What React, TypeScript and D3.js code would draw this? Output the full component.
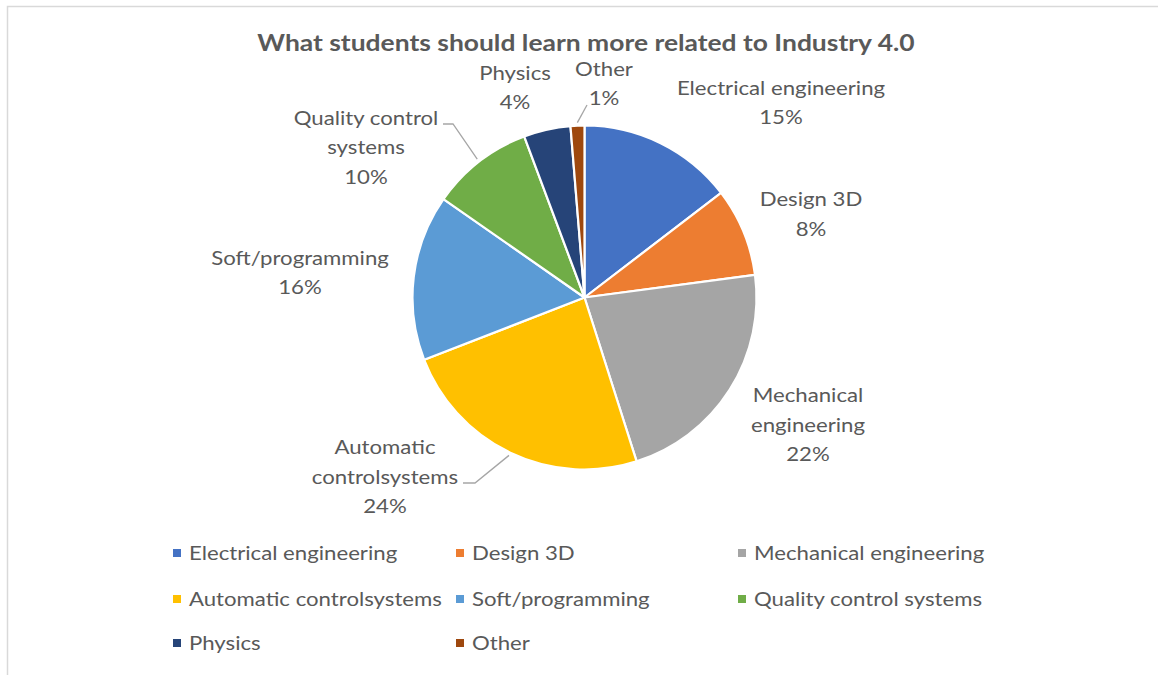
import React from "react";
import * as d3 from "d3";

const categories = [
  "Electrical engineering",
  "Design 3D",
  "Mechanical engineering",
  "Automatic controlsystems",
  "Soft/programming",
  "Quality control systems",
  "Physics",
  "Other",
];
const shares = [14.6, 8.3, 22.2, 24.0, 15.6, 9.6, 4.4, 1.3];
const colors = ["#4472C4", "#ED7D31", "#A5A5A5", "#FFC000", "#5B9BD5", "#70AD47", "#264478", "#9E480E"];
const labelLines = [
  ["Electrical engineering"],
  ["Design 3D"],
  ["Mechanical", "engineering"],
  ["Automatic", "controlsystems"],
  ["Soft/programming"],
  ["Quality control", "systems"],
  ["Physics"],
  ["Other"],
];
const title = "What students should learn more related to Industry 4.0";

// layout
const W = 1158, H = 675;
const cx = 584.5, cy = 297.5, R = 172;
const labelCenters: [number, number][] = [
  [781, 102.5], [811, 214], [808, 424.5], [385, 476.5],
  [300, 272.5], [366, 147], [515, 87.5], [604, 83.5],
];
const leaderStarts: ([number, number][] | null)[] = [
  null, null, null, [[463, 483], [475, 483]], null, [[443, 124], [453, 124]], null, [[587, 105]],
];
const FONT = "Lato, 'Liberation Sans', sans-serif";
const TEXT = "#595959";
const LH = 29.5;
const FS = 20;
const SX = 1.11;
const TFS = 22.5;
const TSX = 1.175;

export default function App() {
  const total = d3.sum(shares);
  const pie = d3.pie<number>().sort(null).value((d) => d).startAngle(0).endAngle(2 * Math.PI);
  const arcs = pie(shares);
  const arc = d3.arc<d3.PieArcDatum<number>>().innerRadius(0).outerRadius(R);

  const legendCols = [173, 456, 738];
  const legendRows = [553, 599, 643];

  return (
    <svg width={W} height={H} style={{ position: "absolute", left: 0, top: 0, background: "#fff" }}>
      <rect x={7.5} y={6.5} width={W + 10} height={H + 10} fill="#fff" stroke="#D9D9D9" strokeWidth={1.5} />
      <text
        transform={`translate(586,51) scale(${TSX},1)`}
        textAnchor="middle"
        fontFamily={FONT}
        fontWeight="bold"
        fontSize={TFS}
        fill={TEXT}
      >
        {title}
      </text>
      <g transform={`translate(${cx},${cy})`}>
        {arcs.map((a, i) => (
          <path key={i} d={arc(a) || ""} fill={colors[i]} stroke="#fff" strokeWidth={2.2} strokeLinejoin="round" />
        ))}
      </g>
      {arcs.map((a, i) => {
        const st = leaderStarts[i];
        if (!st) return null;
        const mid = (a.startAngle + a.endAngle) / 2;
        const ex = cx + Math.sin(mid) * (R + 3);
        const ey = cy - Math.cos(mid) * (R + 3);
        const pts = [...st, [ex, ey]];
        return (
          <polyline key={i} points={pts.map((p) => p.join(",")).join(" ")} fill="none" stroke="#A6A6A6" strokeWidth={1.3} />
        );
      })}
      {arcs.map((a, i) => {
        const lines = [...labelLines[i], `${Math.round((a.value / total) * 100)}%`];
        const [lx, ly] = labelCenters[i];
        const top = ly - ((lines.length - 1) * LH) / 2;
        return (
          <g key={i}>
            {lines.map((t, j) => (
              <text
                key={j}
                transform={`translate(${lx},${top + j * LH}) scale(${SX},1)`}
                dy="0.35em"
                textAnchor="middle"
                fontFamily={FONT}
                fontSize={FS}
                fill={TEXT}
              >
                {t}
              </text>
            ))}
          </g>
        );
      })}
      {categories.map((c, i) => {
        const x = legendCols[i % 3];
        const y = legendRows[Math.floor(i / 3)];
        return (
          <g key={c}>
            <rect x={x} y={y - 4} width={8} height={8} fill={colors[i]} />
            <text
              transform={`translate(${x + 16},${y}) scale(${SX},1)`}
              dy="0.35em"
              fontFamily={FONT}
              fontSize={FS}
              fill={TEXT}
            >
              {c}
            </text>
          </g>
        );
      })}
    </svg>
  );
}
